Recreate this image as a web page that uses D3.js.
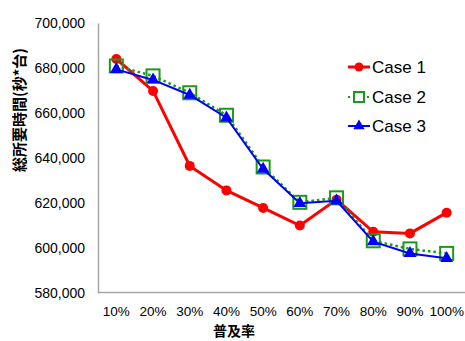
<!DOCTYPE html>
<html>
<head>
<meta charset="utf-8">
<script src="https://cdn.jsdelivr.net/npm/d3@7"></script>
<style>
  html, body { margin: 0; padding: 0; background: #fff; }
  svg text { font-family: "Liberation Sans", Arial, sans-serif; fill: #000; }
  .cjk { font-family: "Noto Sans CJK JP", sans-serif; font-weight: bold; }
</style>
</head>
<body>
<svg id="chart" width="465" height="341"></svg>
<script>
// Adoption rate categories
const categories = ["10%", "20%", "30%", "40%", "50%", "60%", "70%", "80%", "90%", "100%"];
// Total required time (seconds * vehicles) per case
const case1 = [684000, 669800, 636500, 625600, 617800, 610000, 621500, 607200, 606500, 615700];
const case2 = [680900, 676500, 669000, 659000, 636000, 620300, 622300, 603200, 599600, 597600];
const case3 = [679400, 674700, 668000, 657900, 635100, 619900, 621000, 602800, 597600, 595400];
const yTicks = [580000, 600000, 620000, 640000, 660000, 680000, 700000];
const seriesNames = ["Case 1", "Case 2", "Case 3"];
const yTitle = "総所要時間(秒*台)";
const xTitle = "普及率";

const svg = d3.select("#chart");
const plot = { left: 98, right: 465, top: 23, bottom: 293 };

const x = d3.scaleBand().domain(categories).range([plot.left, plot.right]);
const y = d3.scaleLinear().domain([580000, 700000]).range([plot.bottom, plot.top]);
const cx = d => x(d) + x.bandwidth() / 2;

// Axes
const yAxis = d3.axisLeft(y).tickValues(yTicks).tickSize(0).tickPadding(13)
  .tickFormat(d3.format(","));
const gy = svg.append("g").attr("transform", `translate(${plot.left},0)`).call(yAxis);
gy.select(".domain").attr("stroke", "#a6a6a6").attr("stroke-width", 1.5);
gy.selectAll("text").attr("font-size", 14).attr("font-family", "Liberation Sans, Arial, sans-serif");

const xAxis = d3.axisBottom(x).tickSize(0).tickPadding(14);
const gx = svg.append("g").attr("transform", `translate(0,${plot.bottom - 1})`).call(xAxis);
gx.select(".domain").attr("stroke", "#a6a6a6").attr("stroke-width", 1.5);
gx.selectAll("text").attr("font-size", 13.5).attr("font-family", "Liberation Sans, Arial, sans-serif");

// Axis titles
svg.append("text").attr("class", "cjk")
  .attr("transform", "translate(25,110) rotate(-90)")
  .attr("text-anchor", "middle").attr("font-size", 15).text(yTitle);
svg.append("text").attr("class", "cjk")
  .attr("x", 234).attr("y", 331).attr("dy", "0.35em").attr("text-anchor", "middle")
  .attr("font-size", 14).text(xTitle);

const line = d3.line().x((d, i) => cx(categories[i])).y(d => y(d));
const tri = d3.symbol().type(d3.symbolTriangle).size(70);

// Case 1: red line with circles
svg.append("path").datum(case1).attr("d", line)
  .attr("fill", "none").attr("stroke", "#ff0000").attr("stroke-width", 3);
svg.append("g").selectAll("circle").data(case1).join("circle")
  .attr("cx", (d, i) => cx(categories[i])).attr("cy", d => y(d))
  .attr("r", 5).attr("fill", "#ff0000");

// Case 2: green dotted line with hollow squares
svg.append("path").datum(case2).attr("d", line)
  .attr("fill", "none").attr("stroke", "#1a9a1a").attr("stroke-width", 2.5)
  .attr("stroke-dasharray", "2.5,3");
svg.append("g").selectAll("rect").data(case2).join("rect")
  .attr("x", (d, i) => cx(categories[i]) - 6.5).attr("y", d => y(d) - 6.5)
  .attr("width", 13).attr("height", 13)
  .attr("fill", "none").attr("stroke", "#1a9a1a").attr("stroke-width", 2);

// Case 3: blue line with triangles
svg.append("path").datum(case3).attr("d", line)
  .attr("fill", "none").attr("stroke", "#0000ff").attr("stroke-width", 2);
svg.append("g").selectAll("path").data(case3).join("path")
  .attr("d", tri)
  .attr("transform", (d, i) => `translate(${cx(categories[i])},${y(d)})`)
  .attr("fill", "#0000ff");

// Legend
const legend = svg.append("g");
const ly = [67, 97, 126];
const lx0 = 348, lx1 = 370;
// Case 1
legend.append("line").attr("x1", lx0).attr("x2", lx1).attr("y1", ly[0]).attr("y2", ly[0])
  .attr("stroke", "#ff0000").attr("stroke-width", 3);
legend.append("circle").attr("cx", (lx0 + lx1) / 2).attr("cy", ly[0]).attr("r", 4.5).attr("fill", "#ff0000");
// Case 2
legend.append("line").attr("x1", lx0).attr("x2", lx1).attr("y1", ly[1]).attr("y2", ly[1])
  .attr("stroke", "#1a9a1a").attr("stroke-width", 2).attr("stroke-dasharray", "2,7.5");
legend.append("rect").attr("x", (lx0 + lx1) / 2 - 5).attr("y", ly[1] - 5)
  .attr("width", 10).attr("height", 10).attr("fill", "#fff")
  .attr("stroke", "#1a9a1a").attr("stroke-width", 2);
// Case 3
legend.append("line").attr("x1", lx0).attr("x2", lx1).attr("y1", ly[2]).attr("y2", ly[2])
  .attr("stroke", "#0000ff").attr("stroke-width", 2);
legend.append("path").attr("d", d3.symbol().type(d3.symbolTriangle).size(55))
  .attr("transform", `translate(${(lx0 + lx1) / 2},${ly[2]})`).attr("fill", "#0000ff");

legend.selectAll("text.lbl").data(seriesNames).join("text")
  .attr("class", "lbl")
  .attr("x", 372).attr("y", (d, i) => ly[i]).attr("dy", "0.36em")
  .attr("font-size", 17).text(d => d);
</script>
</body>
</html>
